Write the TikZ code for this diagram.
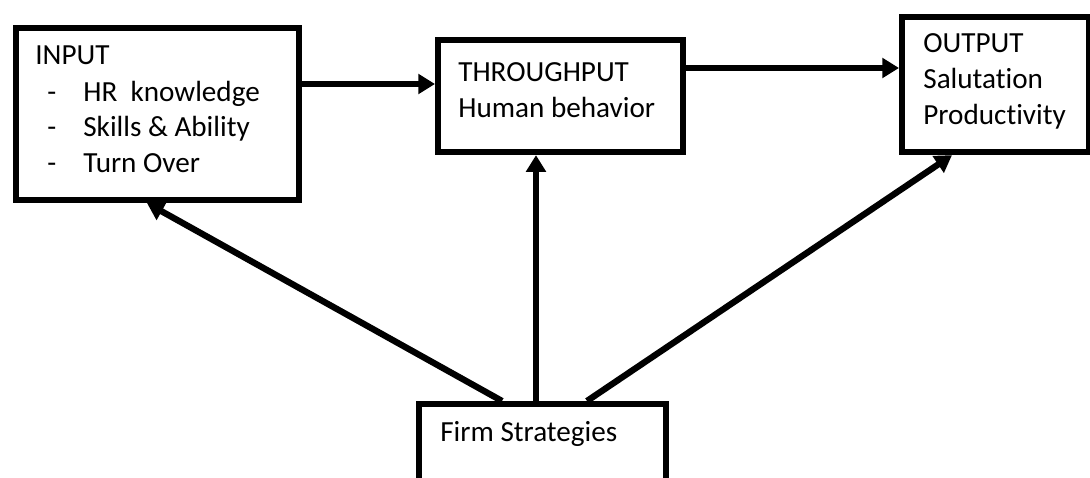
\documentclass[tikz,border=0pt]{standalone}
\usepackage{fontspec}
\setmainfont[Ligatures=NoCommon]{Carlito}
\usetikzlibrary{arrows.meta}

\tikzset{
  blk/.style={draw, line width=3.5pt, inner sep=0pt, anchor=north west},
  txt/.style={anchor=base west, inner sep=0pt, align=left, font=\fontsize{16.6}{20.5}\selectfont},
  arr/.style={line width=3.6pt, -{Triangle[length=9.5pt, width=11pt]}}
}

\begin{document}
\begin{tikzpicture}[cap=butt]
\clip (0,0) rectangle (21.8,9.56);
\useasboundingbox (0,0) rectangle (21.8,9.56);

%boxes
\node[blk, minimum width=5.66cm, minimum height=3.44cm] (input) at (0.257, 9.06) {};
\node[blk, minimum width=4.9cm, minimum height=2.24cm] (through) at (8.7, 8.82) {};
\node[blk, minimum width=3.74cm, minimum height=2.7cm] (output) at (17.98, 9.28) {};
\node[blk, minimum width=4.94cm, minimum height=1.7cm] (firm) at (8.32, 1.54) {};

%texts
\node[txt] (inputtext) at (0.70, 8.26) {INPUT};
\node[txt] (hr) at (0.94, 7.52) {-};
\node[txt] (hrtext) at (1.66, 7.52) {HR\ \ knowledge};
\node[txt] (skills) at (0.94, 6.82) {-};
\node[txt] (skillstext) at (1.66, 6.82) {Skills \& Ability};
\node[txt] (turn) at (0.94, 6.10) {-};
\node[txt] (turntext) at (1.66, 6.10) {Turn Over};

\node[txt] (throughtext) at (9.16, 7.20) {THROUGHPUT\\Human behavior};
\node[txt] (outputtext) at (18.46, 7.06) {OUTPUT\\Salutation\\Productivity};
\node[txt] (firmtext) at (8.80, 0.72) {Firm Strategies};

%arrows
\draw[arr] (input.east |- 0,7.88) -- (through.west |- 0,7.88);
\draw[arr] (through.east |- 0,8.2) -- (output.west |- 0,8.2);
\draw[arr] (firm.north -| 10.04,0) -- (input.south -| 2.94,0);
\draw[arr] (firm.north -| 10.72,0) -- (through.south -| 10.72,0);
\draw[arr] (firm.north -| 11.74,0) -- (output.south -| 19.04,0);

\end{tikzpicture}
\end{document}
